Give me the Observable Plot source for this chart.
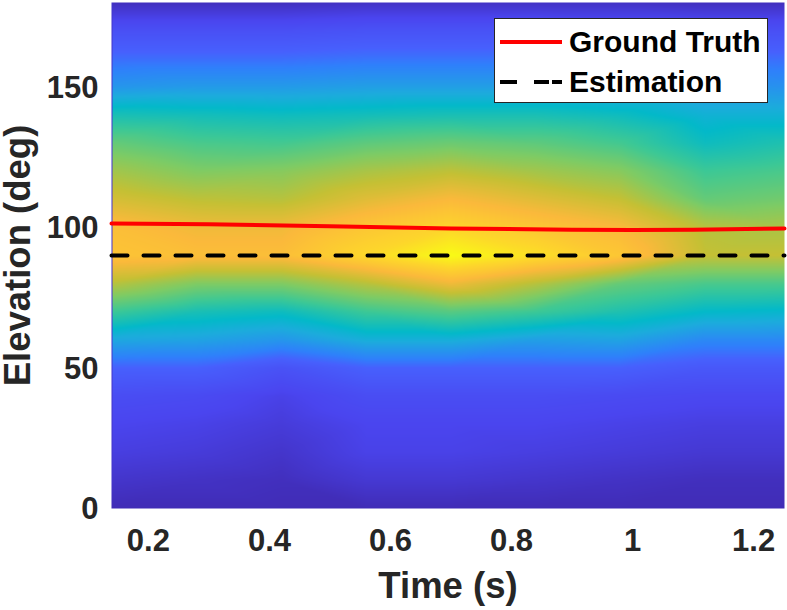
<!DOCTYPE html>
<html>
<head>
<meta charset="utf-8">
<script src="https://cdn.jsdelivr.net/npm/d3@7"></script>
<script src="https://cdn.jsdelivr.net/npm/@observablehq/plot@0.6"></script>
<style>
  html, body { margin: 0; padding: 0; background: #fff; }
  #chart { position: relative; width: 787px; height: 610px; font-family: "Liberation Sans", Arial, sans-serif; }
  #chart svg { display: block; }
  .legend { position: absolute; left: 494px; top: 18px; width: 272px; height: 83px; background: #fff; border: 1px solid #262626; font-size: 30px; font-weight: bold; color: #000; }
  .legend .row { position: absolute; left: 5px; height: 40px; display: flex; align-items: center; }
  .legend svg { margin-right: 7px; }
</style>
</head>
<body>
<div id="chart"></div>
<script>
// heatmap columns, normalised power
const times = [0.14, 0.28, 0.42, 0.56, 0.70, 0.84, 0.98, 1.12, 1.251];
const elevations = [0, 10, 20, 30, 40, 50, 60, 70, 80, 90, 100, 110, 120, 130, 140, 150, 160, 170, 180];
const col014 = [.02, .05, .08, .10, .13, .20, .34, .50, .68, .84, .82, .73, .65, .56, .44, .30, .22, .14, .03];
const col028 = [.02, .04, .07, .09, .12, .20, .33, .44, .60, .82, .78, .69, .60, .52, .43, .31, .22, .14, .03];
const col042 = [.02, .03, .05, .07, .09, .15, .30, .42, .60, .82, .78, .68, .61, .51, .42, .31, .22, .14, .03];
const col056 = [.02, .06, .09, .10, .13, .20, .36, .50, .68, .91, .85, .75, .66, .55, .43, .32, .23, .15, .04];
const col070 = [.02, .06, .09, .10, .13, .20, .36, .54, .78, 1.0, .90, .80, .69, .57, .44, .32, .23, .15, .04];
const col084 = [.02, .05, .08, .10, .13, .20, .32, .50, .68, .93, .85, .75, .65, .55, .44, .32, .23, .15, .04];
const col098 = [.02, .04, .07, .09, .12, .20, .33, .45, .56, .85, .80, .70, .61, .51, .42, .31, .22, .14, .04];
const col112 = [.02, .03, .06, .08, .11, .17, .27, .40, .52, .70, .68, .56, .50, .42, .37, .30, .22, .14, .03];
const col125 = [.02, .03, .06, .08, .11, .17, .27, .39, .52, .70, .66, .58, .52, .45, .37, .29, .22, .14, .03];
const columns = [col014, col028, col042, col056, col070, col084, col098, col112, col125];

// ground truth and estimate
const truthTime = [0.139, 0.3, 0.5, 0.7, 0.9, 1.0, 1.1, 1.251];
const truthElev = [101.4, 101.1, 100.4, 99.6, 99.2, 99.1, 99.2, 99.6];
const estTime = [0.139, 1.251];
const estElev = [90, 90];

const xTicks = [0.2, 0.4, 0.6, 0.8, 1, 1.2];
const yTicks = [0, 50, 100, 150];

// parula as it looks in the picture
const colorStops = [0, .1, .2, .25, .35, .4, .5, .6, .7, .8, .9, 1];
const colorRange = ["#3e26a8", "#4a45ef", "#4760fd", "#2f80fb", "#1cacdc", "#03b9c9", "#3cc896", "#80cb63", "#c5c034", "#fbb93b", "#fdd52c", "#f9fb15"];

const grid = [];
times.forEach((t, i) => elevations.forEach((e, j) => grid.push({t, e, v: columns[i][j]})));
const truth = truthTime.map((t, i) => ({t, e: truthElev[i]}));
const est = estTime.map((t, i) => ({t, e: estElev[i]}));

const plot = Plot.plot({
  width: 787,
  height: 610,
  marginLeft: 111,
  marginRight: 3,
  marginTop: 2,
  marginBottom: 102,
  style: {background: "transparent", fontFamily: "Liberation Sans, Arial, sans-serif"},
  x: {domain: [0.139, 1.251], label: null},
  y: {domain: [0, 180], label: null},
  color: {type: "linear", domain: colorStops, range: colorRange, interpolate: "rgb"},
  marks: [
    Plot.raster(grid, {x: "t", y: "e", fill: "v", interpolate: "barycentric", pixelSize: 1}),
    Plot.line(truth, {x: "t", y: "e", stroke: "#ff0000", strokeWidth: 4}),
    Plot.line(est, {x: "t", y: "e", stroke: "#000", strokeWidth: 4, strokeDasharray: "16,16"}),
    Plot.axisX({ticks: xTicks, tickSize: 0, tickPadding: 20, tickFormat: d => String(d), fontSize: 31, fontWeight: "bold", fill: "#262626", label: null}),
    Plot.axisY({ticks: yTicks, tickSize: 0, tickPadding: 13, dy: 1, tickFormat: d => String(d), fontSize: 31, fontWeight: "bold", fill: "#262626", label: null}),
    Plot.text(["Time (s)"], {frameAnchor: "bottom", dy: 89, fontSize: 36.5, fontWeight: "bold", fill: "#262626"}),
    Plot.text(["Elevation (deg)"], {frameAnchor: "left", dx: -93, rotate: -90, textAnchor: "middle", fontSize: 36.5, fontWeight: "bold", fill: "#262626"})
  ]
});

const chart = document.querySelector("#chart");
chart.append(plot);

// legend box sits on top of the heatmap
const legend = document.createElement("div");
legend.className = "legend";
legend.innerHTML = `
  <div class="row" style="top:3px"><svg width="62" height="8"><line x1="0" x2="62" y1="4" y2="4" stroke="#ff0000" stroke-width="4"/></svg>Ground Truth</div>
  <div class="row" style="top:43px"><svg width="62" height="8"><line x1="0" x2="62" y1="4" y2="4" stroke="#000" stroke-width="4" stroke-dasharray="17,17,15,3,10"/></svg>Estimation</div>`;
chart.append(legend);
</script>
</body>
</html>
